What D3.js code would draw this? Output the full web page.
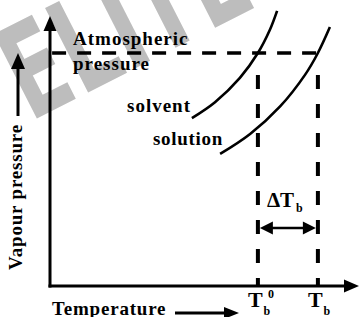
<!DOCTYPE html>
<html><head><meta charset="utf-8">
<script src="https://cdn.jsdelivr.net/npm/d3@7"></script>
<style>html,body{margin:0;padding:0;background:#fff;} svg{display:block;}</style>
</head><body>
<svg id="c" width="359" height="317"></svg>
<script>
// ---- data (arbitrary units) ----
const curveNames = ["solvent", "solution"];
const solventT  = [47.3, 55.0, 63.3, 69.3, 73.3, 75.7];
const solventP  = [62.2, 68.1, 77.1, 86.3, 94.9, 101.9];
const solutionT = [56.7, 66.7, 76.7, 85.0, 89.3, 93.3];
const solutionP = [48.9, 56.3, 66.5, 78.2, 86.3, 95.9];
const atmPressure = 86.3;
const boilingT = [69.3, 89.3];          // T_b^0 (solvent), T_b (solution)
const tickMain = ["T", "T"];
const tickSub  = ["b", "b"];
const tickSup  = ["0", ""];
const axisTitles = ["Temperature", "Vapour pressure"];
const watermark = "ELITE";

const svg = d3.select("#c");
const x = d3.scaleLinear().domain([0, 103]).range([50, 359]);
const y = d3.scaleLinear().domain([0, 100]).range([286, 16]);
const FONT = "'Liberation Serif', 'Times New Roman', serif";

// watermark
svg.append("text")
  .attr("transform", "translate(30,122) rotate(-27) scale(0.72,1)")
  .attr("font-family", "'DejaVu Sans Condensed', 'DejaVu Sans', sans-serif")
  .attr("font-weight", "bold").attr("font-size", 130)
  .attr("fill", "#bdbdbd").text(watermark);

const g = svg.append("g");

// axes
const x0 = x(0), yb = y(0);
g.append("line").attr("x1", x0).attr("x2", x0).attr("y1", yb + 1.5).attr("y2", y(100) + 12)
  .attr("stroke", "#000").attr("stroke-width", 3);
g.append("path").attr("d", `M${x0 - 6.5},${y(100) + 15}L${x0},${y(100)}L${x0 + 6.5},${y(100) + 15}Z`).attr("fill", "#000");
g.append("line").attr("x1", x0 - 1.5).attr("x2", x(103) - 12).attr("y1", yb).attr("y2", yb)
  .attr("stroke", "#000").attr("stroke-width", 3);
g.append("path").attr("d", `M${x(103) - 15},${yb - 6.5}L${x(103)},${yb}L${x(103) - 15},${yb + 6.5}Z`).attr("fill", "#000");

// dashed atmospheric pressure line
g.append("line").attr("x1", x(0.7)).attr("x2", x(boilingT[1])).attr("y1", y(atmPressure)).attr("y2", y(atmPressure))
  .attr("stroke", "#000").attr("stroke-width", 3.5).attr("stroke-dasharray", "14,11");

// vertical dashed lines
boilingT.forEach(t => {
  g.append("line").attr("x1", x(t)).attr("x2", x(t)).attr("y1", y(atmPressure) + 22).attr("y2", yb)
    .attr("stroke", "#000").attr("stroke-width", 4).attr("stroke-dasharray", "14,15");
});

// curves
const line = d3.line().x(d => x(d[0])).y(d => y(d[1])).curve(d3.curveCatmullRom);
[[solventT, solventP], [solutionT, solutionP]].forEach(([T, P]) => {
  g.append("path").attr("d", line(T.map((t, i) => [t, P[i]])))
    .attr("fill", "none").attr("stroke", "#000").attr("stroke-width", 2.6);
});

// delta T double arrow
const ay = 228;
const xa = x(boilingT[0]) + 2, xb = x(boilingT[1]) - 2;
g.append("line").attr("x1", xa + 8).attr("x2", xb - 8).attr("y1", ay).attr("y2", ay).attr("stroke", "#000").attr("stroke-width", 2.6);
g.append("path").attr("d", `M${xa},${ay}L${xa + 13},${ay - 6.5}L${xa + 13},${ay + 6.5}Z`).attr("fill", "#000");
g.append("path").attr("d", `M${xb},${ay}L${xb - 13},${ay - 6.5}L${xb - 13},${ay + 6.5}Z`).attr("fill", "#000");

const dt = g.append("text").attr("x", x(boilingT[0]) + 9).attr("y", 207)
  .attr("font-family", FONT).attr("font-weight", "bold").attr("font-size", 21);
dt.append("tspan").text("ΔT");
dt.append("tspan").attr("font-size", 12).attr("dx", 2).attr("dy", 5).text("b");

// labels
function lab(t, px, py, ls) {
  g.append("text").attr("x", px).attr("y", py).attr("font-family", FONT).attr("font-weight", "bold")
    .attr("font-size", 19).attr("letter-spacing", ls).text(t);
}
lab("Atmospheric", 73, 45, 1);
lab("pressure", 73, 70, 1);
lab(curveNames[0], 127, 112, 1);
lab(curveNames[1], 153, 145, 0.7);
lab(axisTitles[0], 52, 315, 0.8);

// y axis title, rotated, with arrow
g.append("text").attr("transform", "translate(22,270) rotate(-90)")
  .attr("font-family", FONT).attr("font-weight", "bold").attr("font-size", 19).attr("letter-spacing", 0.8)
  .text(axisTitles[1]);
g.append("line").attr("x1", 18).attr("x2", 18).attr("y1", 116).attr("y2", 64).attr("stroke", "#000").attr("stroke-width", 3);
g.append("path").attr("d", "M11,69L18,53L25,69Z").attr("fill", "#000");

// x axis title arrow
g.append("line").attr("x1", 175).attr("x2", 228).attr("y1", 313).attr("y2", 313).attr("stroke", "#000").attr("stroke-width", 3);
g.append("path").attr("d", "M224,307L239,313L224,319Z").attr("fill", "#000");

// tick labels
boilingT.forEach((t, i) => {
  const tx = g.append("text").attr("x", x(t) - 10).attr("y", 307)
    .attr("font-family", FONT).attr("font-weight", "bold").attr("font-size", 22);
  tx.append("tspan").text(tickMain[i]);
  tx.append("tspan").attr("font-size", 12).attr("dx", 1).attr("dy", 8).text(tickSub[i]);
  if (tickSup[i]) {
    g.append("text").attr("x", x(t) + 10).attr("y", 298)
      .attr("font-family", FONT).attr("font-weight", "bold").attr("font-size", 12).text(tickSup[i]);
  }
});
</script>
</body></html>
